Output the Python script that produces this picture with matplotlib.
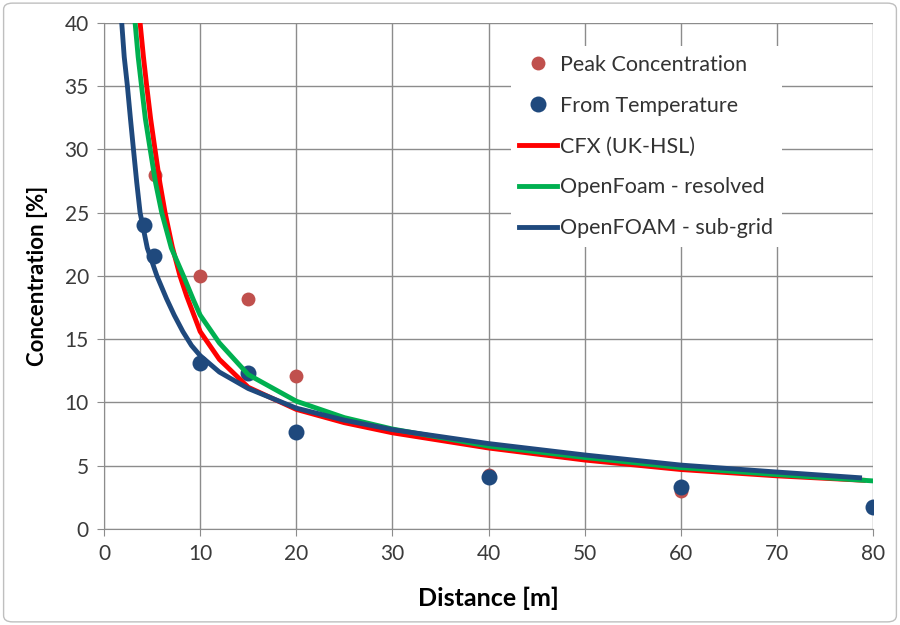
import matplotlib.pyplot as plt
from matplotlib.patches import FancyBboxPatch

plt.rcParams['font.family'] = ['Lato', 'DejaVu Sans']

# measured points
peak_x = [5.3, 10, 15, 20, 40, 60]
peak_y = [28.0, 20.0, 18.2, 12.1, 4.3, 3.0]
temp_x = [4.2, 5.2, 10, 15, 20, 40, 60, 80]
temp_y = [24.0, 21.6, 13.1, 12.3, 7.7, 4.1, 3.3, 1.7]

# CFX (UK-HSL)
cfx_x = [3.75, 4.1, 4.44, 4.85, 5.3, 5.8, 6.35, 7.1, 7.9, 8.6, 10, 12, 15, 20, 25, 30, 40, 50, 60, 70, 79]
cfx_y = [40, 37.3, 35, 32.4, 30, 27.4, 25, 22.3, 20, 18.4, 15.6, 13.4, 11.2, 9.45, 8.4, 7.6, 6.4, 5.45, 4.7, 4.2, 3.85]
# OpenFoam - resolved
ofr_x = [3.23, 3.55, 3.9, 4.3, 4.8, 5.35, 6.0, 7.0, 8.26, 9.3, 10, 12, 15, 20, 25, 30, 40, 50, 60, 70, 80]
ofr_y = [40, 37.3, 35, 32.4, 30, 27.4, 25, 22.2, 20, 18.1, 16.9, 14.7, 12.2, 10.1, 8.8, 7.9, 6.55, 5.65, 4.85, 4.3, 3.8]
# OpenFOAM - sub-grid
ofs_x = [1.84, 2.1, 2.43, 2.75, 3.06, 3.4, 3.75, 4.5, 5.5, 6.5, 7.3, 8.2, 9.1, 10, 12, 15, 20, 25, 30, 40, 50, 60, 70, 78.6]
ofs_y = [40, 37.3, 35, 32.4, 30, 27.4, 25, 22.2, 20, 18.2, 16.9, 15.6, 14.5, 13.7, 12.4, 11.1, 9.55, 8.6, 7.85, 6.75, 5.85, 5.05, 4.5, 4.05]

fig = plt.figure(figsize=(9, 6.25), dpi=100)
ax = fig.add_axes([0.1156, 0.1536, 0.8544, 0.81])

grid_c = '#8c8c8c'
ax.plot(peak_x, peak_y, 'o', color='#C0504D', ms=10, mec='none', label='Peak Concentration', zorder=3)
ax.plot(temp_x, temp_y, 'o', color='#1F497D', ms=11.5, mec='none', label='From Temperature', zorder=4)
ax.plot(cfx_x, cfx_y, color='#FF0000', lw=3.5, label='CFX (UK-HSL)', zorder=5)
ax.plot(ofr_x, ofr_y, color='#00B050', lw=3.5, label='OpenFoam - resolved', zorder=6)
ax.plot(ofs_x, ofs_y, color='#1F497D', lw=3.5, label='OpenFOAM - sub-grid', zorder=7)

ax.set_xlim(0, 80)
ax.set_ylim(0, 40)
ax.set_xticks(range(0, 81, 10))
ax.set_yticks(range(0, 41, 5))
ax.grid(True, color=grid_c, lw=1)
ax.set_axisbelow(True)
for s in ['top', 'right']:
    ax.spines[s].set_visible(False)
for s in ['left', 'bottom']:
    ax.spines[s].set_color(grid_c)
ax.tick_params(direction='out', length=5, color=grid_c, labelsize=15, labelcolor='#3a3a3a', pad=6)

ax.set_xlabel('Distance [m]', fontsize=18, fontweight='bold', labelpad=16)
ax.set_ylabel('Concentration [%]', fontsize=16, fontweight='bold', labelpad=12)

leg = ax.legend(loc='upper left', bbox_to_anchor=(0.529, 0.954), fontsize=15.5, frameon=True,
                handlelength=1.75, handletextpad=0.15, labelspacing=0.97, borderpad=0.4,
                borderaxespad=0)
leg.get_frame().set_edgecolor('none')
leg.get_frame().set_facecolor('white')
leg.get_frame().set_alpha(1)
for t in leg.get_texts():
    t.set_color('#333333')

fig.patches.append(FancyBboxPatch((0.004, 0.005), 0.992, 0.99, boxstyle='round,pad=0,rounding_size=0.01',
                                  transform=fig.transFigure, fill=False, ec='#bfbfbf', lw=1))

fig.savefig('out.png', dpi=100)
